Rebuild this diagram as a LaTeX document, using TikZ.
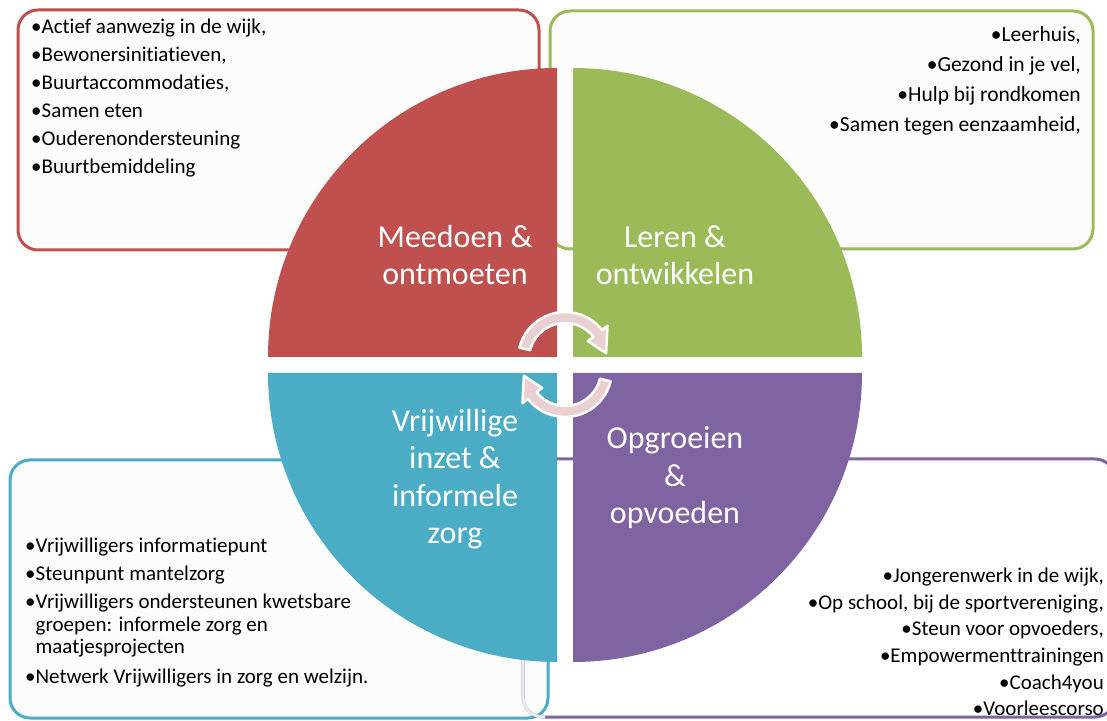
\documentclass[tikz,border=0pt]{standalone}
\usepackage{fontspec}
\setmainfont{Carlito}[Ligatures=NoCommon]
\definecolor{qred}{RGB}{192,80,77}
\definecolor{qgreen}{RGB}{155,187,89}
\definecolor{qblue}{RGB}{75,172,198}
\definecolor{qpurple}{RGB}{128,100,162}
\definecolor{qlav}{RGB}{236,232,242}
\definecolor{boxfill}{RGB}{252,252,252}
\definecolor{arrowfill}{RGB}{234,208,210}
\begin{document}
\begin{tikzpicture}[x=1pt,y=1pt,
  boxst/.style={line width=3pt, rounded corners=20pt, fill=boxfill},
  lab/.style={text=white, font=\fontsize{32}{37.5}\selectfont, align=center, inner sep=0pt},
  itm/.style={text=black, inner sep=0pt},
  circarrow/.style={fill=arrowfill, draw=white, line width=2.5pt, line join=round}]
\useasboundingbox (0,0) rectangle (1107,720);
\clip (0,0) rectangle (1107,720);
\fill[white] (0,0) rectangle (1107,720);

% boxes
\path[boxst, draw=qred] (18,710) rectangle (539,470);
\path[boxst, draw=qgreen] (550,709) rectangle (1093,471);
\path[boxst, draw=qblue] (10,260) rectangle (548,2);

% box texts
\node[itm, anchor=north west, align=left, font=\fontsize{21}{28}\selectfont] (tred) at (31,701)
 {•Actief aanwezig in de wijk,\\•Bewonersinitiatieven,\\•Buurtaccommodaties,\\•Samen eten\\•Ouderenondersteuning\\•Buurtbemiddeling};
\node[itm, anchor=north east, align=right, font=\fontsize{21.5}{30}\selectfont] (tgreen) at (1081,694)
 {•Leerhuis,\\•Gezond in je vel,\\•Hulp bij rondkomen\\•Samen tegen eenzaamheid,};
\node[itm, anchor=north west, align=left, font=\fontsize{21}{22.5}\selectfont] (tblue) at (25,182)
 {•Vrijwilligers informatiepunt\\[5.5pt]•Steunpunt mantelzorg\\[5.5pt]•Vrijwilligers ondersteunen kwetsbare\\\phantom{•}groepen: informele zorg en\\\phantom{•}maatjesprojecten\\[7.5pt]•Netwerk Vrijwilligers in zorg en welzijn.};
\node[itm, anchor=north east, align=right, font=\fontsize{21}{26.6}\selectfont] (tpurple) at (1104,152)
 {•Jongerenwerk in de wijk,\\•Op school, bij de sportvereniging,\\•Steun voor opvoeders,\\•Empowermenttrainingen\\•Coach4you\\•Voorleescorso};

% purple box border (no fill, drawn over text)
\draw[line width=3pt, rounded corners=20pt, draw=qpurple] (523,261) rectangle (1115,3);
\draw[line width=3pt, rounded corners=20pt, draw=qlav] (523,200) -- (523,3) -- (545,3);

% quadrants
\fill[qred] (557,363) -- ++(-289,0) arc[start angle=180, end angle=90, radius=289] -- cycle;
\fill[qgreen] (573,363) -- ++(0,289) arc[start angle=90, end angle=0, radius=289] -- cycle;
\fill[qblue] (557,347) -- ++(-289,0) arc[start angle=180, end angle=270, radius=289] -- cycle;
\fill[qpurple] (573,347) -- ++(289,0) arc[start angle=0, end angle=-90, radius=289] -- cycle;

% labels
\node[lab] (lred) at (455,465) {Meedoen \&\\ontmoeten};
\node[lab] (lgreen) at (675,465) {Leren \&\\ontwikkelen};
\node[lab] (lblue) at (455,241) {Vrijwillige\\inzet \&\\informele\\zorg};
\node[lab] (lpurple) at (675,242) {Opgroeien\\\&\\opvoeden};

% circular arrows
\begin{scope}[shift={(565,361)}]
\draw[circarrow] (166:47) arc[start angle=166, end angle=38, radius=47] -- (38:54) -- (8:41.5) -- (38:29) -- (38:36) arc[start angle=38, end angle=166, radius=36] -- cycle;
\end{scope}
\begin{scope}[shift={(565,350)}, rotate=180]
\draw[circarrow] (166:47) arc[start angle=166, end angle=38, radius=47] -- (38:54) -- (8:41.5) -- (38:29) -- (38:36) arc[start angle=38, end angle=166, radius=36] -- cycle;
\end{scope}
\end{tikzpicture}
\end{document}
